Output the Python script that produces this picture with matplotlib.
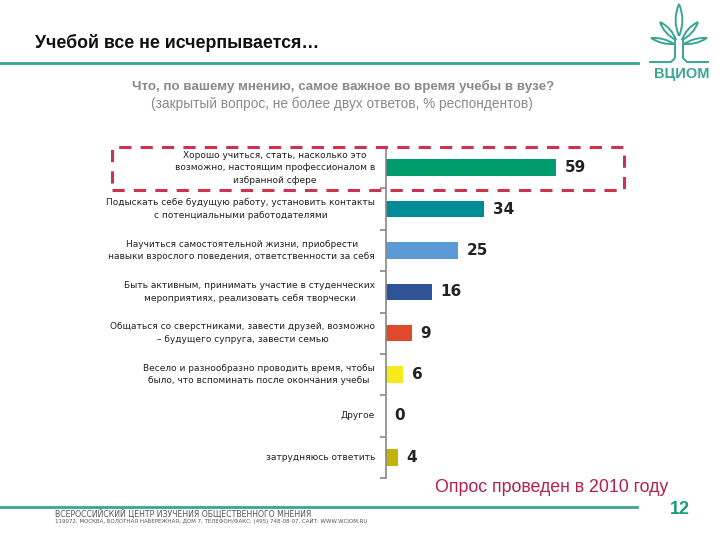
import matplotlib
matplotlib.use('Agg')
import matplotlib.pyplot as plt
from matplotlib.patches import Rectangle, PathPatch
from matplotlib.path import Path
from matplotlib.lines import Line2D

# Data
labels = ['Хорошо учиться, стать, насколько это\nвозможно, настоящим профессионалом в\nизбранной сфере',
          'Подыскать себе будущую работу, установить контакты\nс потенциальными работодателями',
          'Научиться самостоятельной жизни, приобрести\nнавыки взрослого поведения, ответственности за себя',
          'Быть активным, принимать участие в студенческих\nмероприятиях, реализовать себя творчески',
          'Общаться со сверстниками, завести друзей, возможно\n– будущего супруга, завести семью',
          'Весело и разнообразно проводить время, чтобы\nбыло, что вспоминать после окончания учебы',
          'Другое',
          'затрудняюсь ответить']
values = [59, 34, 25, 16, 9, 6, 0, 4]
colors = ['#009b6e', '#008c96', '#5b9bd5', '#2f5496', '#e0492c', '#f7ea1c', '#ffffff', '#c2b30a']

teal = '#3aa594'
arial = ['Liberation Sans', 'DejaVu Sans']
W, H = 720, 540


def fx(x):
    return x / W


def fy(y):
    return 1 - y / H


def leaf(base, tip, width):
    # lens shaped leaf between base and tip, in pixel coordinates
    bx, by = base
    tx, ty = tip
    mx, my = (bx + tx) / 2, (by + ty) / 2
    dx, dy = tx - bx, ty - by
    L = (dx ** 2 + dy ** 2) ** 0.5
    nx, ny = -dy / L * width, dx / L * width
    verts = [(bx, by), (mx + nx, my + ny), (tx, ty), (mx - nx, my - ny), (bx, by)]
    verts = [(fx(a), fy(b)) for a, b in verts]
    codes = [Path.MOVETO, Path.CURVE3, Path.CURVE3, Path.CURVE3, Path.CURVE3]
    return PathPatch(Path(verts, codes), transform=fig.transFigure, fill=False,
                     edgecolor=teal, linewidth=1.4)


fig = plt.figure(figsize=(7.2, 5.4), dpi=100)

# Main axes
ax = fig.add_axes([fx(386), fy(478), 288 / W, (478 - 147) / H])
y = list(range(len(values)))
ax.barh(y, values, height=0.4, color=colors)
ax.set_ylim(len(values) - 0.5, -0.5)
ax.set_xlim(0, 100)
for i, v in enumerate(values):
    ax.text(v + 3, i, str(v), va='center', ha='left', fontsize=11,
            fontweight='bold', color='#222222')
for i, lab in enumerate(labels):
    ax.text(-3.8, i, lab, va='center', ha='right', multialignment='center',
            fontsize=6.5, color='#222222', linespacing=1.5)
for s in ['top', 'right', 'bottom']:
    ax.spines[s].set_visible(False)
ax.spines['left'].set_color('#888888')
ax.spines['left'].set_linewidth(1.2)
ax.set_xticks([])
ax.set_yticks([i + 0.5 for i in range(len(values))])
ax.set_yticklabels([])
ax.tick_params(axis='y', length=4, color='#888888', width=1.2)

# Dashed highlight box
fig.patches.append(Rectangle((fx(112), fy(190)), (624 - 112) / W, (190 - 147) / H,
                             transform=fig.transFigure, fill=False,
                             edgecolor='#cc3350', linewidth=2.2,
                             linestyle=(0, (4, 3))))

# Title and header line
fig.text(fx(35), fy(43), 'Учебой все не исчерпывается…', fontsize=12.8,
         fontweight='bold', va='center', ha='left', color='#111111', family=arial)
fig.add_artist(Line2D([0, fx(638)], [fy(63), fy(63)], color=teal, lw=2))

fig.text(fx(343), fy(86), 'Что, по вашему мнению, самое важное во время учебы в вузе?',
         fontsize=9.6, fontweight='bold', color='#8a8a8a', ha='center', va='center',
         family=arial)
fig.text(fx(342), fy(104), '(закрытый вопрос, не более двух ответов, % респондентов)',
         fontsize=9.8, color='#8a8a8a', ha='center', va='center', family=arial)

# Logo
for base, tip, w in [((679, 36), (679, 4), 7), ((676, 40), (660, 22), 5),
                     ((682, 40), (698, 22), 5), ((674, 44), (651, 38), 4),
                     ((684, 44), (707, 38), 4)]:
    fig.patches.append(leaf(base, tip, w))
fig.add_artist(Line2D([fx(675), fx(675), fx(671), fx(650)],
                      [fy(40), fy(58), fy(62), fy(62)], color=teal, lw=1.4))
fig.add_artist(Line2D([fx(683), fx(683), fx(687), fx(708)],
                      [fy(40), fy(58), fy(62), fy(62)], color=teal, lw=1.4))
fig.text(fx(682), fy(74), 'ВЦИОМ', fontsize=10.5, fontweight='bold', color=teal,
         ha='center', va='center', family=arial)

# Footer
fig.text(fx(668), fy(488), 'Опрос проведен в 2010 году', fontsize=12.8,
         color='#b3204d', ha='right', va='center', family=arial)
fig.add_artist(Line2D([0, fx(637)], [fy(507), fy(507)], color=teal, lw=2))
fig.text(fx(680), fy(510), '12', fontsize=13, fontweight='bold', color='#1f9a7a',
         ha='center', va='center', family=arial)
fig.text(fx(55), fy(514), 'ВСЕРОССИЙСКИЙ ЦЕНТР ИЗУЧЕНИЯ ОБЩЕСТВЕННОГО МНЕНИЯ',
         fontsize=5.6, color='#555555', ha='left', va='center')
fig.text(fx(55), fy(521),
         '119072, МОСКВА, БОЛОТНАЯ НАБЕРЕЖНАЯ, ДОМ 7, ТЕЛЕФОН/ФАКС: (495) 748-08-07, САЙТ: WWW.WCIOM.RU',
         fontsize=4.0, color='#555555', ha='left', va='center')

fig.savefig('out.png', dpi=100)
